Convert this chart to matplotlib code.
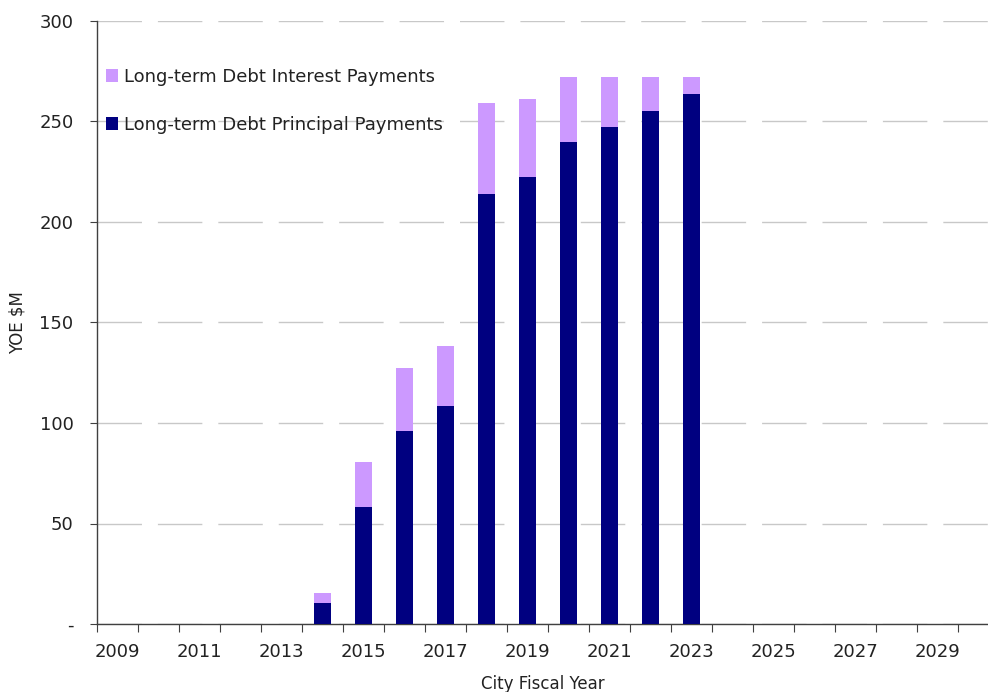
import matplotlib.pyplot as plt
from matplotlib.patches import Patch
from matplotlib.ticker import FixedLocator
import numpy as np

years = list(range(2009, 2031))
principal = [0, 0, 0, 0, 0, 10.4, 58.2, 96.0, 108.5, 213.9, 222.4,
             239.8, 247.3, 255.2, 263.7, 0, 0, 0, 0, 0, 0, 0]
interest = [0, 0, 0, 0, 0, 5.0, 22.4, 31.4, 29.8, 45.3, 38.8,
            32.3, 24.8, 16.9, 8.4, 0, 0, 0, 0, 0, 0, 0]
yticks = [0, 50, 100, 150, 200, 250, 300]
ytick_labels = ["-", "50", "100", "150", "200", "250", "300"]

navy = "#000080"
lilac = "#cc99ff"
txt = '#222222'

plt.rcParams['font.family'] = ['DejaVu Sans']
fig = plt.figure(figsize=(9.88, 6.92), dpi=100)
ax = fig.add_axes([97 / 988, 68 / 692, 891 / 988, 603 / 692])

x = np.arange(len(years))
ax.bar(x, principal, width=0.42, color=navy, zorder=3)
ax.bar(x, interest, width=0.42, bottom=principal, color=lilac, zorder=3)

ax.set_xlim(-0.5, 21.24)
ax.set_ylim(0, 300)

ax.set_yticks(yticks)
ax.set_yticklabels(ytick_labels)
ax.tick_params(axis='y', direction='out', length=5, pad=12, labelsize=13,
               color='#404040', labelcolor=txt)

# year labels on every other category, tick marks on category edges
ax.xaxis.set_major_locator(FixedLocator(np.arange(-0.5, 22, 1)))
ax.xaxis.set_major_formatter(plt.NullFormatter())
ax.set_xticks(x[::2], minor=True)
ax.set_xticklabels([str(y) for y in years[::2]], minor=True)
ax.tick_params(axis='x', which='major', direction='out', length=6,
               color='#404040')
ax.tick_params(axis='x', which='minor', length=0, pad=14, labelsize=13,
               labelcolor=txt)

ax.grid(axis='y', color='#c8c8c8', linewidth=1.0, linestyle=(0, (32, 11.5)),
        zorder=0)
ax.set_axisbelow(True)

for side in ['top', 'right']:
    ax.spines[side].set_visible(False)
for side in ['left', 'bottom']:
    ax.spines[side].set_color('#404040')
    ax.spines[side].set_linewidth(1.0)

ax.set_ylabel("YOE $M", fontsize=12, color=txt)
ax.yaxis.set_label_coords(-0.079, 0.5)
ax.set_xlabel("City Fiscal Year", fontsize=12, color=txt)
ax.xaxis.set_label_coords(0.5, -0.085)

handles = [Patch(facecolor=lilac, edgecolor='none'),
           Patch(facecolor=navy, edgecolor='none')]
ax.legend(handles, ["Long-term Debt Interest Payments",
                    "Long-term Debt Principal Payments"],
          loc='upper left', bbox_to_anchor=(-0.002, 0.94), frameon=False,
          fontsize=13, handlelength=0.68, handleheight=0.68,
          handletextpad=0.3, labelspacing=1.65, borderaxespad=0.2,
          labelcolor=txt)

fig.savefig("out.png", dpi=100)
